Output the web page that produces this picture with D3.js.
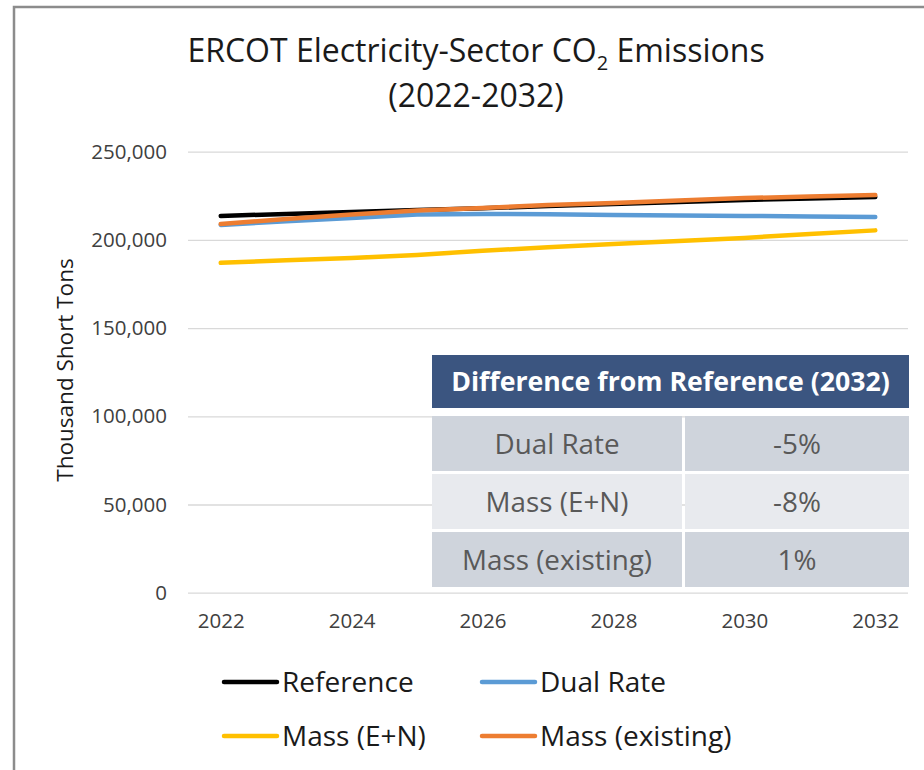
<!DOCTYPE html>
<html>
<head>
<meta charset="utf-8">
<script src="https://cdn.jsdelivr.net/npm/d3@7"></script>
<style>
  body { margin: 0; background: #fff; }
  svg text { font-family: "Open Sans", Lato, sans-serif; }
</style>
</head>
<body>
<div id="chart"></div>
<script>
// --------- DATA ---------
const years = ["2022","2023","2024","2025","2026","2027","2028","2029","2030","2031","2032"];
const tickYears = ["2022","2024","2026","2028","2030","2032"];
const yTicks = [0, 50000, 100000, 150000, 200000, 250000];

const reference   = [213600, 214700, 215800, 217000, 217900, 219200, 220300, 221500, 222600, 223500, 224300];
const dualRate    = [208500, 210500, 212400, 214400, 214700, 214500, 214100, 213900, 213600, 213300, 213000];
const massEN      = [187000, 188400, 189800, 191500, 193800, 195800, 197700, 199400, 201100, 203400, 205400];
const massExist   = [209000, 211900, 214400, 216700, 218100, 219800, 220900, 222300, 223700, 224600, 225400];

const seriesNames  = ["Reference", "Dual Rate", "Mass (E+N)", "Mass (existing)"];
const seriesColors = ["#000000", "#5b9bd5", "#ffc000", "#ed7d31"];

const tableHeader = "Difference from Reference (2032)";
const tableRows = ["Dual Rate", "Mass (E+N)", "Mass (existing)"];
const tableValues = ["-5%", "-8%", "1%"];

// --------- CHART ---------
const W = 924, H = 770;
const plot = {left: 188, right: 908, top: 151.7, bottom: 592.7};

let svg = d3.select("#chart").append("svg")
    .attr("width", W)
    .attr("height", H);

// frame (chart area border, runs off the right and bottom)
svg.append("path")
    .attr("d", "M14,770 L14,7 L924,7")
    .attr("fill", "none")
    .attr("stroke", "#8c8c8c")
    .attr("stroke-width", 2.5);

// title
let title = svg.append("text")
    .attr("x", 476)
    .attr("y", 62)
    .attr("text-anchor", "middle")
    .attr("font-size", 32)
    .attr("fill", "#1a1a1a");
title.append("tspan").text("ERCOT Electricity-Sector CO");
title.append("tspan").attr("font-size", 20).attr("dy", 8).text("2");
title.append("tspan").attr("dy", -8).text(" Emissions");

svg.append("text")
    .attr("x", 476)
    .attr("y", 107)
    .attr("text-anchor", "middle")
    .attr("font-size", 32)
    .attr("fill", "#1a1a1a")
    .text("(2022-2032)");

// scales
let xScale = d3.scalePoint()
    .domain(years)
    .range([plot.left, plot.right])
    .padding(0.5);

let yScale = d3.scaleLinear()
    .domain([0, 250000])
    .range([plot.bottom, plot.top]);

// gridlines
let yGrid = d3.axisLeft(yScale)
    .tickValues(yTicks)
    .tickFormat("")
    .tickSizeInner(-(plot.right - plot.left))
    .tickSizeOuter(0);

svg.append("g")
    .attr("transform", "translate(" + plot.left + ",0)")
    .call(yGrid)
    .call(g => g.select(".domain").remove())
    .call(g => g.selectAll("line").attr("stroke", "#d9d9d9").attr("stroke-width", 1.3));

// y axis labels
let yAxis = d3.axisLeft(yScale)
    .tickValues(yTicks)
    .tickFormat(d3.format(","))
    .tickSize(0)
    .tickPadding(plot.left - 167);

svg.append("g")
    .attr("transform", "translate(" + plot.left + ",0)")
    .call(yAxis)
    .call(g => g.select(".domain").remove())
    .call(g => g.selectAll("text")
        .attr("font-size", 20.5)
        .attr("fill", "#404040")
        .style("font-family", "'Open Sans', sans-serif"));

// x axis labels
let xAxis = d3.axisBottom(xScale)
    .tickValues(tickYears)
    .tickSize(0)
    .tickPadding(21);

svg.append("g")
    .attr("transform", "translate(0," + plot.bottom + ")")
    .call(xAxis)
    .call(g => g.select(".domain").remove())
    .call(g => g.selectAll("text")
        .attr("font-size", 20.5)
        .attr("fill", "#404040")
        .style("font-family", "'Open Sans', sans-serif"));

// y axis title
svg.append("text")
    .attr("transform", "translate(73,370) rotate(-90)")
    .attr("text-anchor", "middle")
    .attr("font-size", 22.5)
    .attr("fill", "#1a1a1a")
    .text("Thousand Short Tons");

// lines
let allSeries = [reference, dualRate, massEN, massExist];
let line = d3.line()
    .x((d, i) => xScale(years[i]))
    .y(d => yScale(d));

svg.append("g").selectAll("path")
    .data(allSeries)
    .join("path")
    .attr("fill", "none")
    .attr("stroke", (d, i) => seriesColors[i])
    .attr("stroke-width", 4.5)
    .attr("stroke-linecap", "round")
    .attr("stroke-linejoin", "round")
    .attr("d", d => line(d));

// table overlay
const tbl = {x: 432, y: 355, w: 477, headH: 53, rowH: 55, gap: 3, col1: 250};
let table = svg.append("g");

table.append("rect")
    .attr("x", tbl.x).attr("y", tbl.y)
    .attr("width", tbl.w).attr("height", tbl.headH)
    .attr("fill", "#3b5580");
table.append("rect")
    .attr("x", tbl.x).attr("y", tbl.y + tbl.headH)
    .attr("width", tbl.w).attr("height", 8)
    .attr("fill", "#ffffff");
table.append("text")
    .attr("x", tbl.x + tbl.w / 2)
    .attr("y", tbl.y + tbl.headH / 2)
    .attr("dy", "0.36em")
    .attr("text-anchor", "middle")
    .attr("font-size", 26.7)
    .attr("font-weight", "bold")
    .attr("fill", "#ffffff")
    .text(tableHeader);

let rowTop = i => tbl.y + tbl.headH + 8 + i * (tbl.rowH + tbl.gap);
tableRows.forEach((r, i) => {
    let fill = i % 2 === 0 ? "#cfd4dc" : "#e8eaee";
    table.append("rect")
        .attr("x", tbl.x).attr("y", rowTop(i))
        .attr("width", tbl.col1).attr("height", tbl.rowH)
        .attr("fill", fill);
    table.append("rect")
        .attr("x", tbl.x + tbl.col1 + tbl.gap).attr("y", rowTop(i))
        .attr("width", tbl.w - tbl.col1 - tbl.gap).attr("height", tbl.rowH)
        .attr("fill", fill);
    table.append("text")
        .attr("x", tbl.x + tbl.col1 / 2)
        .attr("y", rowTop(i) + tbl.rowH / 2)
        .attr("dy", "0.36em")
        .attr("text-anchor", "middle")
        .attr("font-size", 27.8)
        .attr("fill", "#595959")
        .text(r);
    table.append("text")
        .attr("x", tbl.x + tbl.col1 + tbl.gap + (tbl.w - tbl.col1 - tbl.gap) / 2)
        .attr("y", rowTop(i) + tbl.rowH / 2)
        .attr("dy", "0.36em")
        .attr("text-anchor", "middle")
        .attr("font-size", 27.8)
        .attr("fill", "#595959")
        .text(tableValues[i]);
});

// legend
const legendPos = [[224, 682], [482, 682], [224, 736], [482, 736]];
let legend = svg.append("g").selectAll("g")
    .data(seriesNames)
    .join("g")
    .attr("transform", (d, i) => "translate(" + legendPos[i][0] + "," + legendPos[i][1] + ")");

legend.append("line")
    .attr("x1", 0).attr("x2", 53)
    .attr("stroke", (d, i) => seriesColors[i])
    .attr("stroke-width", 4.5)
    .attr("stroke-linecap", "round");

legend.append("text")
    .attr("x", 58)
    .attr("dy", "0.36em")
    .attr("font-size", 28)
    .attr("fill", "#1a1a1a")
    .text(d => d);
</script>
</body>
</html>
